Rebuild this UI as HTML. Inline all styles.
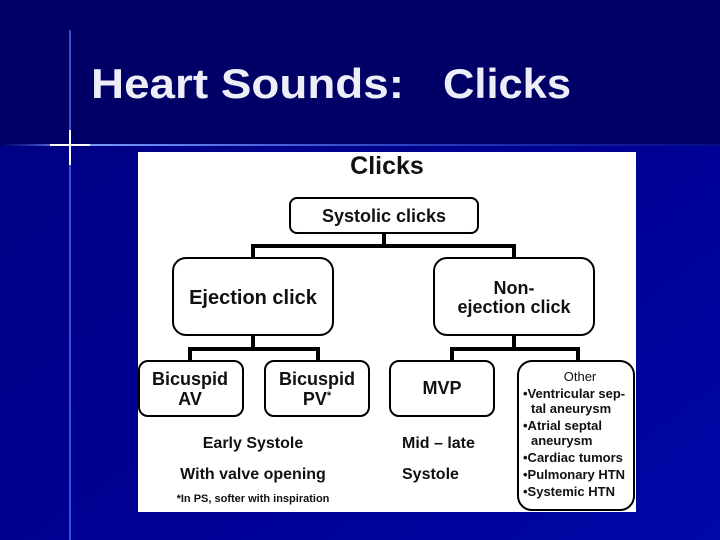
<!DOCTYPE html>
<html><head><style>
body{margin:0;width:720px;height:540px;overflow:hidden;background:#000070}
svg{display:block}
</style></head><body>
<svg width="720" height="540" viewBox="0 0 720 540" xmlns="http://www.w3.org/2000/svg" font-family="Liberation Sans, Arial, sans-serif" font-weight="bold">
<defs>
<linearGradient id="bg" x1="0" y1="0" x2="1" y2="1">
<stop offset="0" stop-color="#000060"/><stop offset="0.5" stop-color="#000080"/><stop offset="1" stop-color="#0010b0"/>
</linearGradient>
<linearGradient id="hl" x1="0" x2="1"><stop offset="0" stop-color="#4060ff" stop-opacity="0"/><stop offset="0.1" stop-color="#80a0ff"/><stop offset="1" stop-color="#2040ff" stop-opacity="0.2"/></linearGradient>
</defs>
<rect width="720" height="540" fill="url(#bg)"/>
<rect x="0" y="0" width="720" height="146" fill="#000066"/>
<rect x="0" y="146" width="720" height="394" fill="#0000a0" opacity="0.5"/>
<rect x="0" y="144" width="720" height="2" fill="url(#hl)"/>
<rect x="69" y="30" width="2" height="510" fill="#5070ff" opacity="0.7"/>
<rect x="69" y="130" width="2" height="35" fill="#fff"/>
<rect x="50" y="144" width="40" height="2" fill="#fff"/>
<text x="91" y="98" font-size="42" fill="#eeeef8" textLength="313" lengthAdjust="spacingAndGlyphs">Heart Sounds:</text>
<text x="443" y="98" font-size="42" fill="#eeeef8" textLength="128" lengthAdjust="spacingAndGlyphs">Clicks</text>
<rect x="138" y="152" width="498" height="360" fill="#fff"/>
<text x="387" y="174" font-size="25" text-anchor="middle" fill="#111">Clicks</text>
<g fill="none" stroke="#000" stroke-width="4">
<path d="M384 233V246M253 258V246H514V258M253 335V349M190 361V349H318V361M514 335V349M452 361V349H578V361"/>
</g>
<g fill="#fff" stroke="#000" stroke-width="2">
<rect x="290" y="198" width="188" height="35" rx="7"/>
<rect x="173" y="258" width="160" height="77" rx="13"/>
<rect x="434" y="258" width="160" height="77" rx="13"/>
<rect x="139" y="361" width="104" height="55" rx="9"/>
<rect x="265" y="361" width="104" height="55" rx="9"/>
<rect x="390" y="361" width="104" height="55" rx="9"/>
<rect x="518" y="361" width="116" height="149" rx="14"/>
</g>
<g fill="#111" text-anchor="middle">
<text x="384" y="222" font-size="18">Systolic clicks</text>
<text x="253" y="304" font-size="20">Ejection click</text>
<text x="514" y="294" font-size="18">Non-</text>
<text x="514" y="313" font-size="18">ejection click</text>
<text x="190" y="385" font-size="18">Bicuspid</text>
<text x="190" y="405" font-size="18">AV</text>
<text x="317" y="385" font-size="18">Bicuspid</text>
<text x="317" y="405" font-size="18">PV<tspan font-size="11" dy="-6">*</tspan></text>
<text x="442" y="394" font-size="18">MVP</text>
<text x="253" y="448" font-size="16">Early Systole</text>
<text x="253" y="479" font-size="16">With valve opening</text>
<text x="253" y="502" font-size="11">*In PS, softer with inspiration</text>
<text x="580" y="381" font-size="13" font-weight="normal">Other</text>
</g>
<g fill="#111" font-size="16">
<text x="402" y="448">Mid – late</text>
<text x="402" y="479">Systole</text>
</g>
<g fill="#111" font-size="13">
<text x="523" y="398">•Ventricular sep-</text>
<text x="531" y="413">tal aneurysm</text>
<text x="523" y="430">•Atrial septal</text>
<text x="531" y="445">aneurysm</text>
<text x="523" y="462">•Cardiac tumors</text>
<text x="523" y="479">•Pulmonary HTN</text>
<text x="523" y="496">•Systemic HTN</text>
</g>
</svg>
</body></html>
